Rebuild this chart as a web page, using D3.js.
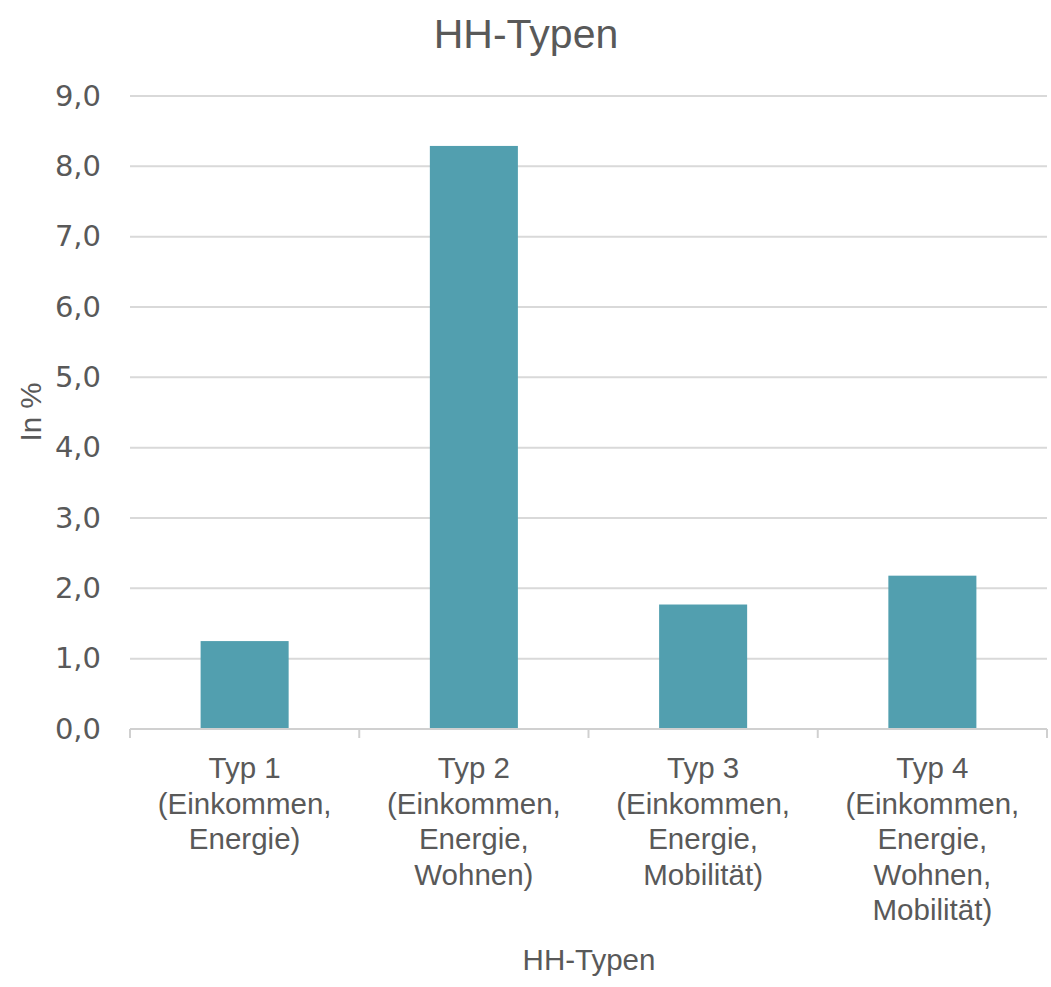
<!DOCTYPE html>
<html>
<head>
<meta charset="utf-8">
<script src="https://cdn.jsdelivr.net/npm/d3@7"></script>
<style>
  html, body { margin: 0; padding: 0; background: #ffffff; }
  svg { display: block; }
</style>
</head>
<body>
<div id="chart"></div>
<script>
// Share of households per household type (in %)
const categories = [
  ["Typ 1", "(Einkommen,", "Energie)"],
  ["Typ 2", "(Einkommen,", "Energie,", "Wohnen)"],
  ["Typ 3", "(Einkommen,", "Energie,", "Mobilität)"],
  ["Typ 4", "(Einkommen,", "Energie,", "Wohnen,", "Mobilität)"]
];
const values = [1.25, 8.29, 1.77, 2.18];
const yTicks = [0, 1, 2, 3, 4, 5, 6, 7, 8, 9];
const chartTitle = "HH-Typen";
const xTitle = "HH-Typen";
const yTitle = "In %";

const W = 1051, H = 987;
const margin = { top: 96, right: 4, bottom: 258, left: 130 };
const textColor = "#595959";
const barColor = "#529FAF";

const svg = d3.select("#chart").append("svg")
  .attr("width", W).attr("height", H);

const keys = categories.map(c => c[0]);
const x = d3.scaleBand()
  .domain(keys)
  .range([margin.left, W - margin.right])
  .paddingInner(0.616)
  .paddingOuter(0.308);

const y = d3.scaleLinear()
  .domain([0, 9])
  .range([H - margin.bottom, margin.top]);

// horizontal gridlines
svg.append("g")
  .selectAll("line")
  .data(yTicks.filter(t => t > 0))
  .join("line")
  .attr("x1", margin.left).attr("x2", W - margin.right)
  .attr("y1", d => y(d)).attr("y2", d => y(d))
  .attr("stroke", "#D9D9D9").attr("stroke-width", 2);

// y axis labels
const yAxis = d3.axisLeft(y)
  .tickValues(yTicks)
  .tickSize(0)
  .tickPadding(29)
  .tickFormat(d => d3.format(".1f")(d).replace(".", ","));
const gy = svg.append("g")
  .attr("transform", `translate(${margin.left},0)`)
  .call(yAxis);
gy.select(".domain").remove();
gy.selectAll("text")
  .attr("fill", textColor)
  .style("font-family", "'DejaVu Sans', Verdana, sans-serif")
  .style("font-size", "29px");

// bars
svg.append("g")
  .selectAll("rect")
  .data(values)
  .join("rect")
  .attr("x", (d, i) => x(keys[i]))
  .attr("width", x.bandwidth())
  .attr("y", d => y(d))
  .attr("height", d => y(0) - y(d))
  .attr("fill", barColor);

// x axis: baseline and category boundary ticks
const y0 = y(0);
svg.append("line")
  .attr("x1", margin.left).attr("x2", W - margin.right)
  .attr("y1", y0).attr("y2", y0)
  .attr("stroke", "#D0D0D0").attr("stroke-width", 2);
const step = x.step();
const boundaries = d3.range(keys.length + 1).map(i => margin.left + i * step);
svg.append("g")
  .selectAll("line")
  .data(boundaries)
  .join("line")
  .attr("x1", d => d).attr("x2", d => d)
  .attr("y1", y0).attr("y2", y0 + 9)
  .attr("stroke", "#D0D0D0").attr("stroke-width", 2);

// category labels (multi-line)
const lab = svg.append("g")
  .selectAll("text")
  .data(categories)
  .join("text")
  .attr("text-anchor", "middle")
  .attr("fill", textColor)
  .style("font-family", "'Liberation Sans', Arial, sans-serif")
  .style("font-size", "29.5px")
  .attr("x", (d, i) => x(keys[i]) + x.bandwidth() / 2)
  .attr("y", y0 + 49);
lab.selectAll("tspan")
  .data(d => d)
  .join("tspan")
  .attr("x", function () { return d3.select(this.parentNode).attr("x"); })
  .attr("dy", (d, i) => i === 0 ? 0 : 35.5)
  .text(d => d);

// chart title
svg.append("text")
  .attr("x", 526).attr("y", 48)
  .attr("text-anchor", "middle")
  .attr("fill", textColor)
  .style("font-family", "'Liberation Sans', Arial, sans-serif")
  .style("font-size", "41px")
  .text(chartTitle);

// x axis title
svg.append("text")
  .attr("x", 589).attr("y", 970)
  .attr("text-anchor", "middle")
  .attr("fill", textColor)
  .style("font-family", "'Liberation Sans', Arial, sans-serif")
  .style("font-size", "29.5px")
  .text(xTitle);

// y axis title
svg.append("text")
  .attr("transform", "translate(41,412) rotate(-90)")
  .attr("text-anchor", "middle")
  .attr("fill", textColor)
  .style("font-family", "'Liberation Sans', Arial, sans-serif")
  .style("font-size", "29.5px")
  .text(yTitle);
</script>
</body>
</html>
